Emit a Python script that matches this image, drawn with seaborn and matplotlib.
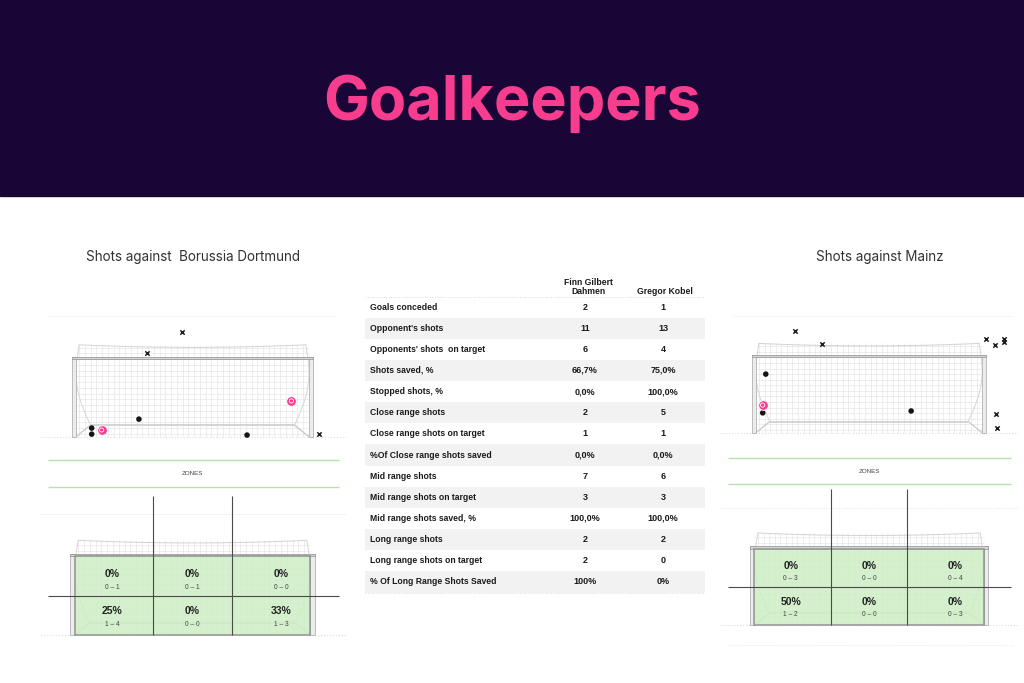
import numpy as np
import pandas as pd
import matplotlib.pyplot as plt
from matplotlib.patches import Rectangle
import seaborn as sns

sns.set_style("white")
plt.rcParams['font.family'] = ['Liberation Sans', 'DejaVu Sans']

W, H = 1024, 683
NAVY = '#1a0537'
PINK = '#f93d8e'

# ---- table data ----
stat_labels = ["Goals conceded", "Opponent's shots", "Opponents' shots  on target",
               "Shots saved, %", "Stopped shots, %", "Close range shots",
               "Close range shots on target", "%Of Close range shots saved",
               "Mid range shots", "Mid range shots on target", "Mid range shots saved, %",
               "Long range shots", "Long range shots on target", "% Of Long Range Shots Saved"]
dahmen_vals = ["2", "11", "6", "66,7%", "0,0%", "2", "1", "0,0%", "7", "3", "100,0%", "2", "2", "100%"]
kobel_vals = ["1", "13", "4", "75,0%", "100,0%", "5", "1", "0,0%", "6", "3", "100,0%", "2", "0", "0%"]
keeper_names = ["Finn Gilbert\nDahmen", "Gregor Kobel"]

# ---- shot maps (metres: x from goal centre, y from ground) ----
bvb_shot_x = [-0.33, -1.43, 3.98, 3.10, -2.85, -1.68, -3.16, -3.16, 1.71]
bvb_shot_y = [3.28, 2.63, 0.09, 1.13, 0.22, 0.56, 0.28, 0.09, 0.06]
bvb_shot_res = ["Off target", "Off target", "Off target", "Goal", "Goal",
                "Saved", "Saved", "Saved", "Saved"]

mainz_shot_x = [-2.39, -1.52, 3.79, 4.05, 4.37, 4.37, 4.11, 4.14, -3.43, -3.33, -3.43, 1.36]
mainz_shot_y = [3.29, 2.87, 3.03, 2.84, 3.03, 2.94, 0.61, 0.16, 0.90, 1.90, 0.65, 0.71]
mainz_shot_res = ["Off target"] * 8 + ["Goal", "Saved", "Saved", "Saved"]

# ---- zones (top row, bottom row; left, centre, right) ----
bvb_zone_pct = [[0, 0, 0], [25, 0, 33]]
bvb_zone_goals = [[0, 0, 0], [1, 0, 1]]
bvb_zone_shots = [[1, 1, 0], [4, 0, 3]]

mainz_zone_pct = [[0, 0, 0], [50, 0, 0]]
mainz_zone_goals = [[0, 0, 0], [1, 0, 0]]
mainz_zone_shots = [[3, 0, 4], [2, 0, 3]]


def px_axes(fig, x0, y0, x1, y1):
    return fig.add_axes([x0 / W, 1 - y1 / H, (x1 - x0) / W, (y1 - y0) / H])


def goal_axes(fig, box, cx, ground, scale):
    x0, y0, x1, y1 = box
    ax = px_axes(fig, *box)
    ax.set_xlim((x0 - cx) / scale, (x1 - cx) / scale)
    ax.set_ylim((ground - y1) / scale, (ground - y0) / scale)
    ax.axis('off')
    return ax


def draw_goal(ax, roof=0.45):
    top = 2.44 + roof
    # net mesh
    ax.vlines(np.arange(-3.55, 3.6, 0.18), 0, top, color='#e2e2e2', lw=0.4, zorder=1)
    ax.hlines(np.arange(0.1, top, 0.18), -3.66, 3.66, color='#e2e2e2', lw=0.4, zorder=1)
    xs = np.linspace(-3.55, 3.55, 60)
    ax.plot(xs, top - 0.08 * (1 - (xs / 3.55) ** 2), color='#d2d2d2', lw=0.7, zorder=2)
    # back of the net
    ax.hlines(0.37, -3.2, 3.2, color='#cdcdcd', lw=1.2, zorder=2)
    for s in (-1, 1):
        ax.plot([s * 3.66, s * 3.2], [0, 0.37], color='#cdcdcd', lw=1.0, zorder=2)
        t = np.linspace(0, 1, 30)
        ax.plot(s * (3.55 - 0.35 * t + 0.25 * np.sin(np.pi * t)), top - (top - 0.37) * t,
                color='#d6d6d6', lw=0.7, zorder=2)
    # ground
    ax.hlines(0, -4.8, 4.8, color='#dedede', lw=0.8, ls=':', zorder=1)
    # frame
    for px in (-3.66 - 0.13, 3.66):
        ax.add_patch(Rectangle((px, 0), 0.13, 2.51, fc='#ececec', ec='#b3b3b3', lw=0.6, zorder=3))
    ax.add_patch(Rectangle((-3.79, 2.44), 7.58, 0.07, fc='#d6d6d6', ec='#9c9c9c', lw=0.6, zorder=3))


def draw_shots(ax, xs, ys, res):
    df = pd.DataFrame({'x': xs, 'y': ys, 'res': res})
    miss = df[df.res == 'Off target']
    saved = df[df.res == 'Saved']
    goals = df[df.res == 'Goal']
    sns.scatterplot(data=miss, x='x', y='y', marker='x', color='#1e1e1e', s=10,
                    linewidth=1.1, ax=ax, legend=False, zorder=5)
    sns.scatterplot(data=saved, x='x', y='y', marker='o', color='#151515', s=16,
                    edgecolor='none', ax=ax, legend=False, zorder=5)
    sns.scatterplot(data=goals, x='x', y='y', marker='o', color=PINK, s=48,
                    edgecolor='white', linewidth=0.6, ax=ax, legend=False, zorder=5)
    sns.scatterplot(data=goals, x='x', y='y', marker='o', facecolor='none', s=9,
                    edgecolor='white', linewidth=0.6, ax=ax, legend=False, zorder=6)
    ax.set_xlabel('')
    ax.set_ylabel('')


def draw_zones(ax, pct, goals, shots, line_top, band):
    draw_goal(ax, roof=0.5)
    ax.hlines(3.75, -4.75, 4.75, color='#e2e2e2', lw=0.7, ls=':', zorder=1)
    ax.add_patch(Rectangle((-3.66, 0), 7.32, 2.44, fc='#cdeec4', alpha=0.85,
                           ec='#8c8c8c', lw=1.2, zorder=4))
    ax.vlines([-1.22, 1.22], 0, line_top, color='#4a4a4a', lw=0.8, zorder=6)
    ax.hlines(1.22, -4.5, 4.55, color='#4a4a4a', lw=0.8, zorder=6)
    ax.hlines(band, -4.5, 4.55, color='#b6e2ab', lw=1.0, zorder=6)
    ax.text(0, np.mean(band), 'ZONES', ha='center', va='center', fontsize=4.5,
            color='#444444', zorder=7)
    col_x = [-2.5, 0, 2.75]
    row_y = [(1.9, 1.47), (0.75, 0.33)]
    for r in range(2):
        for c in range(3):
            ax.text(col_x[c], row_y[r][0], f"{pct[r][c]}%", ha='center', va='center',
                    fontsize=7.5, fontweight='bold', color='#222222', zorder=7)
            ax.text(col_x[c], row_y[r][1], f"{goals[r][c]} – {shots[r][c]}", ha='center',
                    va='center', fontsize=4.8, color='#444444', zorder=7)


fig = plt.figure(figsize=(W / 100, H / 100), dpi=100)
fig.patch.set_facecolor('white')
fig.patches.append(Rectangle((0, 1 - 196 / H), 1, 196 / H, transform=fig.transFigure,
                             color=NAVY, zorder=0))
fig.text(512 / W, 1 - 104 / H, 'Goalkeepers', ha='center', va='center', fontsize=44,
         fontweight='bold', color=PINK, family=['Inter', 'DejaVu Sans'])

# subtitles
fig.text(193 / W, 1 - 257 / H, 'Shots against  Borussia Dortmund', ha='center', va='center',
         fontsize=9.7, color='#333333', family=['Inter', 'DejaVu Sans'])
fig.text(880 / W, 1 - 257 / H, 'Shots against Mainz', ha='center', va='center',
         fontsize=9.7, color='#333333', family=['Inter', 'DejaVu Sans'])

# shot maps
ax_l = goal_axes(fig, (40, 300, 350, 450), 192.5, 437, 31.9)
draw_goal(ax_l)
ax_l.hlines(3.8, -4.5, 4.5, color='#e6e6e6', lw=0.7, ls=':')
draw_shots(ax_l, bvb_shot_x, bvb_shot_y, bvb_shot_res)

ax_r = goal_axes(fig, (720, 300, 1020, 450), 869, 433, 31.0)
draw_goal(ax_r)
ax_r.hlines(3.77, -4.4, 4.6, color='#e6e6e6', lw=0.7, ls=':')
draw_shots(ax_r, mainz_shot_x, mainz_shot_y, mainz_shot_res)

# zones
ax_lz = goal_axes(fig, (40, 445, 350, 650), 192.5, 635, 32.2)
draw_zones(ax_lz, bvb_zone_pct, bvb_zone_goals, bvb_zone_shots, 4.33, [5.44, 4.59])

ax_rz = goal_axes(fig, (720, 440, 1020, 660), 869, 625, 31.3)
draw_zones(ax_rz, mainz_zone_pct, mainz_zone_goals, mainz_zone_shots, 4.35, [5.32, 4.49])
ax_rz.hlines(-0.65, -4.5, 4.6, color='#e6e6e6', lw=0.7, ls=':')

# table
ax_t = px_axes(fig, 360, 265, 710, 600)
ax_t.set_xlim(360, 710)
ax_t.set_ylim(600, 265)
ax_t.axis('off')
row_h = 21.15
for i, (lab, a, b) in enumerate(zip(stat_labels, dahmen_vals, kobel_vals)):
    y = 307 + i * row_h
    if i % 2 == 1:
        ax_t.axhspan(y - row_h / 2, y + row_h / 2, xmin=5 / 350, xmax=345 / 350,
                     color='#f2f2f2', lw=0, zorder=0)
    ax_t.text(370, y, lab, ha='left', va='center', fontsize=6.2, fontweight='bold', color='#1a1a1a')
    ax_t.text(585, y, a, ha='center', va='center', fontsize=6.5, fontweight='bold', color='#1a1a1a')
    ax_t.text(663, y, b, ha='center', va='center', fontsize=6.5, fontweight='bold', color='#1a1a1a')
ax_t.text(588, 287, keeper_names[0], ha='center', va='center', fontsize=6.2, fontweight='bold',
          color='#1a1a1a', linespacing=1.1)
ax_t.text(665, 292, keeper_names[1], ha='center', va='center', fontsize=6.2, fontweight='bold',
          color='#1a1a1a')
ax_t.hlines([297, 593], 365, 705, color='#dcdcdc', lw=0.7, ls=':')

fig.savefig('out.png', dpi=100, facecolor='white')
